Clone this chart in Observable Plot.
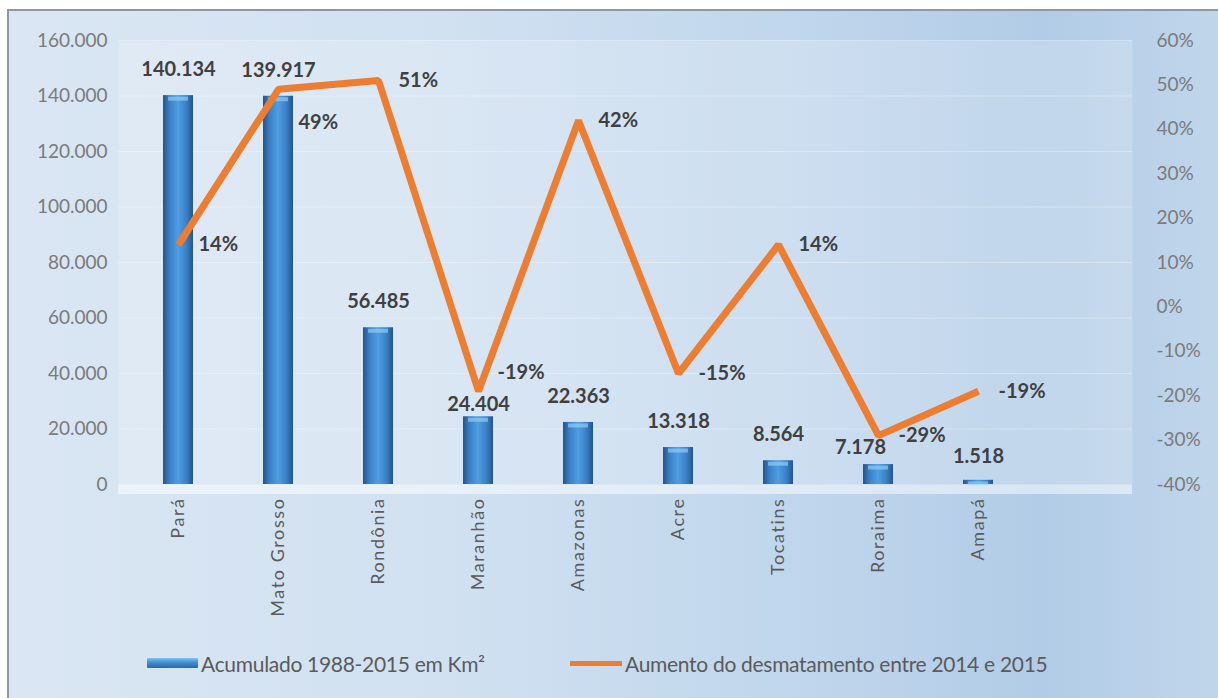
<!DOCTYPE html>
<html>
<head>
<meta charset="utf-8">
<script src="https://cdn.jsdelivr.net/npm/d3@7"></script>
<script src="https://cdn.jsdelivr.net/npm/@observablehq/plot@0.6"></script>
<style>
  html, body { margin: 0; padding: 0; width: 1218px; height: 698px; overflow: hidden; background: #fff; }
  #bg {
    position: absolute; left: 7px; top: 9px; width: 1220px; height: 700px;
    border: 2px solid #8d99a6; box-sizing: border-box;
    background: linear-gradient(90deg, #dae6f3 0%, #d1e1f1 35%, #c0d6ec 65%, #b2cce7 85%, #c0d6eb 100%);
  }
  #chart { position: absolute; left: 0; top: 0; }
  #legend { position: absolute; left: 0; top: 649px; width: 1218px; height: 28px;
    font-family: Lato, "Open Sans", sans-serif; font-size: 21px; color: #5b5b5b; }
  .item { position: absolute; top: 0; display: flex; align-items: center; height: 28px; letter-spacing: -0.3px; }
  .sw-bar { width: 51px; height: 10px; margin-right: 3px;
    background: linear-gradient(180deg, #7cc6f2 0%, #4592d6 40%, #2c66a6 100%); border-radius: 1px; }
  .sw-line { width: 52px; height: 5px; margin-right: 3px; background: #ed7d31; }
  #chart svg g[aria-label="x-axis tick label"] text { letter-spacing: 1.6px; }
</style>
</head>
<body>
<div id="bg"></div>
<div id="chart"></div>
<div id="legend">
  <div class="item" style="left:147px"><span class="sw-bar"></span>Acumulado 1988-2015 em Km²</div>
  <div class="item" style="left:570px"><span class="sw-line"></span>Aumento do desmatamento entre 2014 e 2015</div>
</div>
<script>
const states = ["Pará", "Mato Grosso", "Rondônia", "Maranhão", "Amazonas", "Acre", "Tocatins", "Roraima", "Amapá"];
const accumulated = [140134, 139917, 56485, 24404, 22363, 13318, 8564, 7178, 1518];
const increasePct = [14, 49, 51, -19, 42, -15, 14, -29, -19];
const leftTicks = [0, 20000, 40000, 60000, 80000, 100000, 120000, 140000, 160000];
const rightTicks = [-40, -30, -20, -10, 0, 10, 20, 30, 40, 50, 60];

// secondary axis (-40%..60%) mapped onto primary scale (0..160000)
const pctToY = p => (p + 40) * 1600;

const ptBR = d3.formatLocale({decimal: ",", thousands: ".", grouping: [3], currency: ["", ""]});
const fmt = ptBR.format(",");

const data = states.map((s, i) => ({state: s, value: accumulated[i], pct: increasePct[i], yPct: pctToY(increasePct[i])}));

const font = "Lato, 'Open Sans', sans-serif";
const labelColor = "#404040";
const labelStyle = {fill: labelColor, fontSize: 20, fontWeight: "bold", lineAnchor: "middle"};

const only = names => data.filter(d => names.includes(d.state));
const except = names => data.filter(d => !names.includes(d.state));

const barLabel = (subset, dx, dy) => Plot.text(subset, {x: "state", y: "value", text: d => fmt(d.value), dx, dy, ...labelStyle});
const pctLabel = (subset, dx, dy) => Plot.text(subset, {x: "state", y: "yPct", text: d => d.pct + "%", dx, dy, textAnchor: "start", ...labelStyle});

const chart = Plot.plot({
  width: 1218,
  height: 640,
  marginLeft: 118,
  marginRight: 86,
  marginTop: 40,
  marginBottom: 156,
  style: {fontFamily: font, background: "transparent", overflow: "visible"},
  x: {domain: states, range: [128, 1028], paddingInner: 0.7, paddingOuter: 0.35, label: null},
  y: {domain: [0, 160000], label: null},
  marks: [
    Plot.frame({fill: "#ffffff", fillOpacity: 0.2, stroke: null}),
    Plot.gridY(leftTicks, {stroke: "#ffffff", strokeOpacity: 0.3, strokeWidth: 1}),
    Plot.ruleY([0], {stroke: "#ffffff", strokeOpacity: 0.5, strokeWidth: 9, dy: 5}),
    Plot.barY(data, {x: "state", y: "value", fill: "url(#barGrad)"}),
    Plot.tickY(data, {x: "state", y: "value", stroke: "#9ad8f8", strokeWidth: 4, strokeOpacity: 0.6, dy: 3, insetLeft: 5, insetRight: 5}),
    Plot.lineY(data, {x: "state", y: "yPct", stroke: "#ed7d31", strokeWidth: 7, strokeLinejoin: "miter", strokeLinecap: "butt"}),
    barLabel(except(["Maranhão", "Roraima", "Amapá"]), 0, -26),
    barLabel(only(["Maranhão"]), 0, -12),
    barLabel(only(["Roraima"]), -18, -17),
    barLabel(only(["Amapá"]), 0, -24),
    pctLabel(except(["Mato Grosso", "Maranhão"]), 20, 0),
    pctLabel(only(["Mato Grosso"]), 20, 33),
    pctLabel(only(["Maranhão"]), 19, -19),
    Plot.axisY(leftTicks, {anchor: "left", tickSize: 0, tickPadding: 11, tickFormat: d => fmt(d), fontSize: 19, fill: "#7b7b7b", label: null}),
    Plot.axisY(rightTicks.map(pctToY), {anchor: "right", tickSize: 0, tickPadding: 24, tickFormat: d => Math.round(d / 1600 - 40) + "%", fontSize: 19, fill: "#7b7b7b", label: null}),
    Plot.axisX({anchor: "bottom", tickSize: 0, tickPadding: 13, tickRotate: -90, fontSize: 18, fill: "#5b5b5b", label: null})
  ]
});

// gradient definitions for the cylinder-like bars
const ns = "http://www.w3.org/2000/svg";
const defs = document.createElementNS(ns, "defs");
defs.innerHTML = `
  <linearGradient id="barGrad" x1="0" x2="1" y1="0" y2="0">
    <stop offset="0%" stop-color="#24558c"/>
    <stop offset="22%" stop-color="#3b80c6"/>
    <stop offset="50%" stop-color="#4f9de3"/>
    <stop offset="78%" stop-color="#3b80c6"/>
    <stop offset="100%" stop-color="#24558c"/>
  </linearGradient>`;
chart.insertBefore(defs, chart.firstChild);
document.getElementById("chart").appendChild(chart);
</script>
</body>
</html>
